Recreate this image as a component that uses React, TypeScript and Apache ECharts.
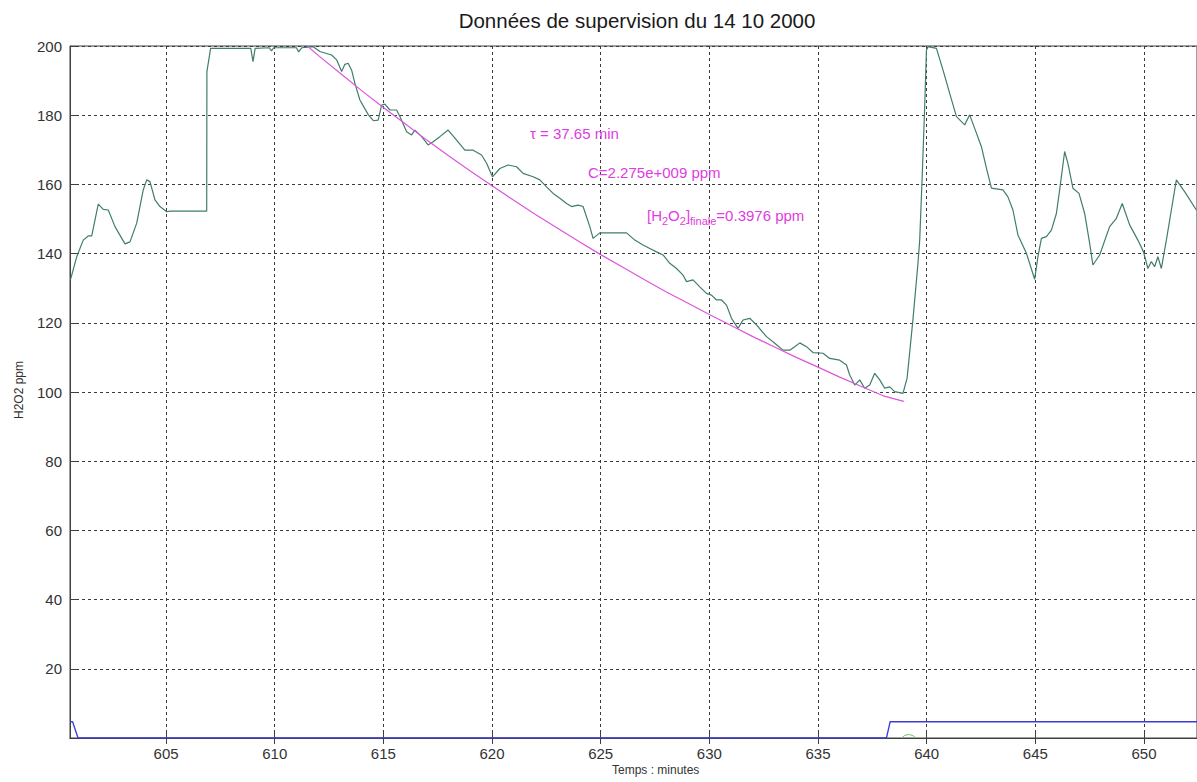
import React, { useEffect, useRef } from "react";
import * as echarts from "echarts";

// Measured H2O2 concentration (ppm) vs time (minutes)
const measT = [
  600.6, 600.66, 600.89, 601.19, 601.42, 601.58, 601.88, 602.11, 602.34, 602.65, 603.11, 603.34, 603.65, 603.95, 604.11,
  604.26, 604.49, 604.72, 605.03, 605.18, 606.87, 606.88, 607.05, 608.9, 609.0, 609.1, 609.75, 609.85, 609.95, 611.0,
  611.1, 611.25, 611.77, 612.08, 612.62, 612.85, 613.08, 613.23, 613.38, 613.54, 613.69, 613.92, 614.31, 614.54, 614.76,
  614.92, 615.07, 615.3, 615.61, 615.76, 616.07, 616.3, 616.45, 616.76, 617.06, 617.29, 617.6, 617.98, 618.37, 618.75,
  619.13, 619.52, 619.75, 620.02, 620.36, 620.74, 621.13, 621.43, 621.89, 622.2, 622.51, 622.81, 623.12, 623.43, 623.66,
  623.96, 624.19, 624.5, 624.65, 624.96, 626.19, 626.57, 626.95, 627.26, 627.57, 627.87, 628.18, 628.49, 628.79, 628.95,
  629.25, 629.56, 629.87, 630.1, 630.33, 630.56, 630.79, 631.02, 631.32, 631.55, 631.86, 632.17, 632.63, 633.01, 633.39,
  633.7, 633.93, 634.16, 634.47, 634.77, 635.23, 635.54, 636.0, 636.31, 636.46, 636.69, 636.92, 637.15, 637.38, 637.61,
  637.84, 638.07, 638.3, 638.53, 638.91, 639.1, 639.37, 639.6, 639.68, 639.8, 639.91, 639.99, 640.06, 640.45, 640.75,
  641.06, 641.37, 641.75, 641.98, 642.21, 642.52, 642.75, 642.98, 643.51, 643.74, 643.97, 644.2, 644.59, 644.97, 645.12,
  645.28, 645.51, 645.74, 645.97, 646.12, 646.35, 646.5, 646.73, 647.01, 647.27, 647.5, 647.65, 647.96, 648.42, 648.73,
  649.0, 649.34, 649.72, 649.98, 650.18, 650.34, 650.49, 650.64, 650.8, 651.03, 651.26, 651.49, 651.87, 652.41,
];
const measV = [
  132.5, 133.8, 139.1, 143.9, 145.1, 145.1, 154.3, 152.8, 152.6, 147.8, 142.8, 143.4, 148.8, 158.4, 161.3,
  160.8, 155.5, 153.6, 152.1, 152.3, 152.3, 192.6, 199.3, 199.3, 195.5, 199.3, 199.5, 198.6, 199.5, 199.5,
  198.3, 199.5, 199.8, 198.4, 197.4, 196.0, 192.6, 194.7, 195.0, 193.0, 189.2, 184.4, 180.1, 178.4, 178.6,
  182.9, 183.2, 181.5, 181.5, 179.6, 175.2, 174.3, 175.7, 173.8, 171.4, 172.3, 173.8, 175.7, 172.8, 169.9,
  169.9, 168.5, 166.1, 162.2, 164.6, 165.6, 165.1, 163.2, 162.2, 161.3, 159.3, 157.4, 156.0, 154.5, 153.6,
  154.0, 153.6, 147.8, 144.4, 146.0, 146.0, 143.9, 142.5, 141.5, 140.5, 139.6, 137.2, 135.7, 133.8, 131.9,
  132.4, 130.4, 128.5, 128.0, 126.6, 126.6, 125.1, 121.3, 118.4, 120.8, 121.3, 119.4, 116.0, 114.1, 112.1,
  112.1, 113.1, 114.2, 113.1, 111.4, 111.2, 109.7, 109.2, 107.8, 104.9, 102.0, 103.5, 101.1, 102.0, 105.4,
  103.5, 101.1, 101.5, 100.1, 99.6, 104.0, 121.0, 137.2, 143.9, 163.2, 182.5, 198.8, 199.8, 199.3, 193.1,
  186.3, 179.6, 177.2, 180.1, 176.2, 170.9, 164.7, 158.9, 158.4, 156.4, 152.6, 145.4, 140.1, 132.6, 139.1,
  144.4, 144.9, 146.8, 151.6, 158.4, 169.5, 166.1, 158.9, 157.4, 151.6, 143.0, 136.7, 139.6, 147.8, 150.2,
  154.5, 148.3, 143.9, 140.5, 135.7, 137.7, 136.2, 139.1, 135.7, 143.9, 152.6, 161.3, 157.9, 152.6,
];

// Fitted exponential decay (magenta)
const fitT = [611.5, 612, 613, 614, 615, 616, 617, 618, 619, 620, 621, 622, 623, 624, 625, 626, 627, 628, 629, 630, 631, 632, 633, 634, 635, 636, 637, 638, 638.95];
const fitV = [200.0, 197.3, 192.2, 187.1, 182.2, 177.5, 172.8, 168.3, 163.9, 159.6, 155.4, 151.3, 147.4, 143.5, 139.7, 136.1, 132.5, 129.0, 125.7, 122.4, 119.2, 116.0, 113.0, 110.0, 107.2, 104.3, 101.6, 98.9, 97.3];

// Blue status signal
const sigT = [600.58, 600.7, 600.95, 638.15, 638.32, 652.44];
const sigV = [4.7, 4.7, 0, 0, 4.7, 4.7];

// Small light-green trace near zero
const aux2T = [638.85, 639.0, 639.2, 639.4, 639.5];
const aux2V = [0, 0.8, 1.0, 0.6, 0];

const xTicks = [605, 610, 615, 620, 625, 630, 635, 640, 645, 650];
const X_MIN = 600.58;
const X_MAX = 652.44;

const pairs = (t: number[], v: number[]) => t.map((x, i) => [x, v[i]]);

const FONT = "'Liberation Sans', Arial, sans-serif";
const MAG = "#e03ce0";

export default function App() {
  const ref = useRef<HTMLDivElement>(null);
  useEffect(() => {
    if (!ref.current) return;
    const chart = echarts.init(ref.current, undefined, { renderer: "svg" });
    const gridLine = { show: true, lineStyle: { color: "#3a3a3a", type: [3, 3] as any, width: 1 } };
    chart.setOption({
      animation: false,
      backgroundColor: "#ffffff",
      title: {
        text: "Données de supervision du 14 10 2000",
        left: 632,
        textAlign: "center",
        top: 5,
        textStyle: { fontFamily: FONT, fontSize: 20.5, fontWeight: "normal", color: "#1a1a1a" },
      },
      grid: { left: 70, right: 0, top: 46, bottom: 44, show: true, borderColor: "#404040", borderWidth: 1, backgroundColor: "transparent" },
      xAxis: [
        {
          type: "value",
          min: X_MIN,
          max: X_MAX,
          axisLine: { show: true, onZero: false, lineStyle: { color: "#404040" } },
          axisTick: { show: true, inside: true, length: 6, customValues: xTicks, lineStyle: { color: "#404040" } },
          axisLabel: { customValues: xTicks, fontFamily: FONT, fontSize: 15, color: "#333", margin: 8 },
          splitLine: gridLine,
        },
        {
          type: "value",
          position: "top",
          min: X_MIN,
          max: X_MAX,
          axisLine: { show: true, lineStyle: { color: "#404040" } },
          axisTick: { show: true, inside: true, length: 6, customValues: xTicks, lineStyle: { color: "#404040" } },
          axisLabel: { show: false },
          splitLine: { show: false },
        },
      ],
      yAxis: {
        type: "value",
        min: 0,
        max: 200,
        interval: 20,
        axisLine: { show: true, lineStyle: { color: "#404040" } },
        axisTick: { show: true, inside: true, length: 6, lineStyle: { color: "#404040" } },
        axisLabel: {
          fontFamily: FONT,
          fontSize: 15,
          color: "#333",
          margin: 8,
          formatter: (v: number) => (v === 0 ? "" : String(v)),
        },
        splitLine: gridLine,
      },
      series: [
        {
          type: "line",
          data: pairs(measT, measV),
          showSymbol: false,
          lineStyle: { color: "#3f7d6c", width: 1.2 },
          clip: true,
          z: 3,
        },
        {
          type: "line",
          data: pairs(fitT, fitV),
          showSymbol: false,
          smooth: false,
          lineStyle: { color: "#dd55dd", width: 1.2 },
          z: 4,
        },
        {
          type: "line",
          data: pairs(sigT, sigV),
          showSymbol: false,
          lineStyle: { color: "#3a3ad6", width: 1.3 },
          z: 5,
        },
        {
          type: "line",
          data: pairs(aux2T, aux2V),
          showSymbol: false,
          lineStyle: { color: "#66cc66", width: 1 },
          z: 4,
        },
      ],
      graphic: [
        {
          type: "text",
          left: 612,
          top: 764,
          style: { text: "Temps : minutes", fill: "#333333", font: `12px ${FONT}`, align: "center" },
        },
        {
          type: "text",
          x: 19,
          y: 390,
          rotation: Math.PI / 2,
          style: { text: "H2O2 ppm", fill: "#333333", font: `12px ${FONT}`, align: "center", verticalAlign: "middle" },
        },
        {
          type: "text",
          left: 530,
          top: 126,
          style: { text: "τ = 37.65 min", fill: MAG, font: `15px ${FONT}` },
          z: 10,
        },
        {
          type: "text",
          left: 588,
          top: 165,
          style: { text: "C=2.275e+009 ppm", fill: MAG, font: `15px ${FONT}` },
          z: 10,
        },
        {
          type: "text",
          left: 647,
          top: 208,
          style: {
            text: "{n|[H}{s|2}{n|O}{s|2}{n|]}{s|finale}{n|=0.3976 ppm}",
            fill: MAG,
            rich: {
              n: { fontFamily: FONT, fontSize: 15, color: MAG, lineHeight: 18, verticalAlign: "top" },
              s: { fontFamily: FONT, fontSize: 11, color: MAG, lineHeight: 18, verticalAlign: "bottom" },
            },
          },
          z: 10,
        },
      ],
    });
    return () => chart.dispose();
  }, []);
  return <div ref={ref} style={{ position: "fixed", left: 0, top: 0, width: 1197, height: 782 }} />;
}
